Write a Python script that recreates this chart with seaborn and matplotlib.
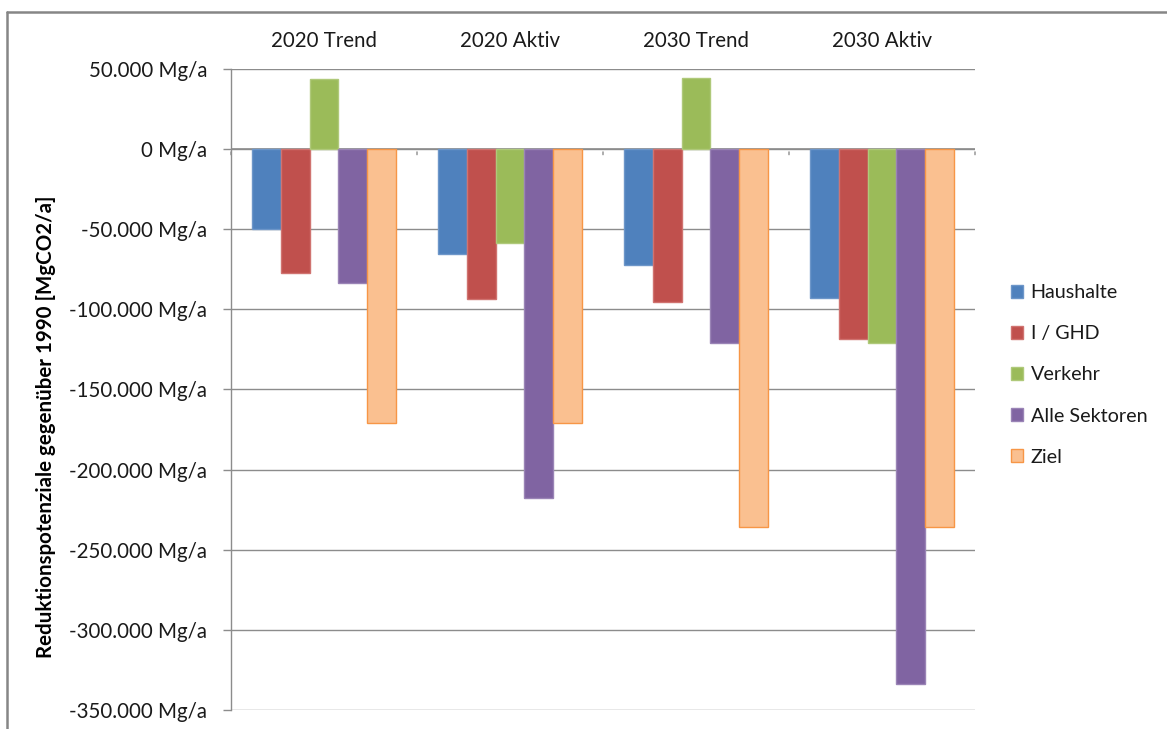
import matplotlib
matplotlib.use("Agg")
import matplotlib.pyplot as plt
from matplotlib.ticker import FuncFormatter, MultipleLocator
from matplotlib.lines import Line2D
import seaborn as sns
import pandas as pd

# Scenarios and sectors
szenarien = ["2020 Trend", "2020 Aktiv", "2030 Trend", "2030 Aktiv"]
sektoren = ["Haushalte", "I / GHD", "Verkehr", "Alle Sektoren", "Ziel"]

# Reduction potential relative to 1990 in Mg CO2 per year
haushalte = [-50000, -65400, -72500, -93100]
i_ghd = [-77500, -93700, -95200, -118700]
verkehr = [43700, -58700, 44400, -121200]
alle_sektoren = [-83700, -217600, -121200, -333600]
ziel = [-171200, -171200, -235700, -235700]

werte = [haushalte, i_ghd, verkehr, alle_sektoren, ziel]

fill_colors = ["#4F81BD", "#C0504D", "#9BBB59", "#8064A2", "#FAC090"]
edge_colors = ["#6D96C9", "#D07370", "#AFC97A", "#9A84B6", "#F79646"]

rows = []
for sektor, serie in zip(sektoren, werte):
    for sz, v in zip(szenarien, serie):
        rows.append({"Szenario": sz, "Sektor": sektor, "Wert": v})
df = pd.DataFrame(rows)

sns.set_theme(style="white")
plt.rcParams["font.family"] = ["Lato", "DejaVu Sans"]

FS = 14.8
W, H = 1167, 729
fig = plt.figure(figsize=(W / 100, H / 100), dpi=100)
ax = fig.add_axes([231 / W, 1 - 710 / H, (975 - 231) / W, (710 - 69) / H])

sns.barplot(data=df, x="Szenario", y="Wert", hue="Sektor", order=szenarien,
            hue_order=sektoren, palette=fill_colors, width=0.775,
            saturation=1, legend=False, ax=ax, errorbar=None)

for cont, ec in zip(ax.containers, edge_colors):
    for p in cont:
        p.set_edgecolor(ec)
        p.set_linewidth(1.0)
        p.set_zorder(3)

grid_c = "#8C8C8C"
ax.set_ylim(-350000, 50000)
ax.set_xlim(-0.5, len(szenarien) - 0.5)
ax.yaxis.set_major_locator(MultipleLocator(50000))
ax.yaxis.set_major_formatter(FuncFormatter(
    lambda v, _: f"{int(round(v)):,} Mg/a".replace(",", ".")))
ax.grid(axis="y", color=grid_c, linewidth=1.0, zorder=0)
ax.set_axisbelow(True)

for s in ["top", "right", "bottom"]:
    ax.spines[s].set_visible(False)
ax.spines["left"].set_color(grid_c)
ax.spines["left"].set_linewidth(1.0)

ax.tick_params(axis="y", which="both", left=True, length=6, width=1.0,
               color=grid_c, labelsize=FS, labelcolor="#1a1a1a", pad=11)

# Category labels along the top
ax.xaxis.tick_top()
ax.tick_params(axis="x", top=False, bottom=False, labelsize=FS,
               labelcolor="#1a1a1a", pad=7)
ax.set_xlabel("")
ax.set_ylabel("")

# Zero line with category separators
ax.axhline(0, color=grid_c, linewidth=1.2, zorder=2)
for b in [i - 0.5 for i in range(len(szenarien) + 1)]:
    ax.annotate("", xy=(b, 0), xycoords=("data", "data"),
                xytext=(0, -6), textcoords="offset points",
                arrowprops=dict(arrowstyle="-", color=grid_c, lw=1.0))

fig.text(46 / W, 1 - 427 / H, "Reduktionspotenziale gegenüber 1990 [MgCO2/a]",
         rotation=90, ha="center", va="center", fontsize=14.8,
         fontweight="bold", color="#000000")

leg = fig.legend(ax.containers, sektoren, loc="center left",
                 bbox_to_anchor=(1001 / W, 1 - 375 / H), frameon=False,
                 fontsize=14.2, handlelength=0.6, handleheight=0.6,
                 handletextpad=0.4, labelspacing=1.22, borderpad=0)
for t in leg.get_texts():
    t.set_color("#1a1a1a")

# Chart-area frame
fig.add_artist(Line2D([7 / W, 7 / W], [0, 1 - 12 / H], color="#868686",
                      linewidth=1.8, transform=fig.transFigure))
fig.add_artist(Line2D([7 / W, 1.0], [1 - 12 / H, 1 - 12 / H], color="#868686",
                      linewidth=1.8, transform=fig.transFigure))

fig.savefig("out.png", dpi=100)
